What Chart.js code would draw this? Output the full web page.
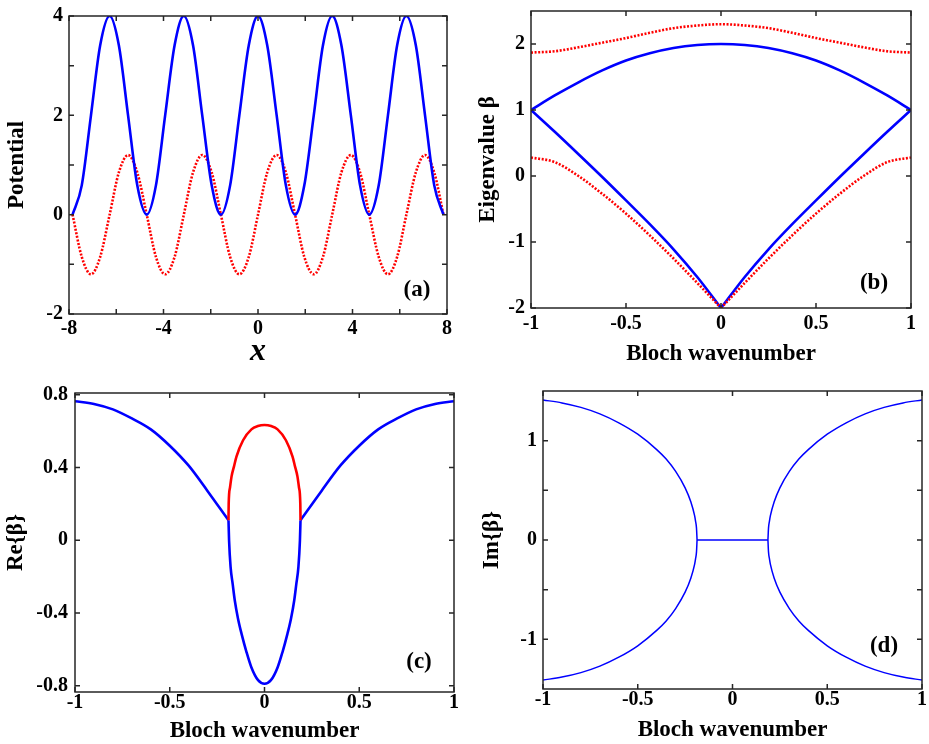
<!DOCTYPE html>
<html>
<head>
<meta charset="utf-8">
<script src="https://cdn.jsdelivr.net/npm/chart.js@4"></script>
<style>
  body { margin: 0; background: #fff; }
  canvas { position: absolute; }
</style>
</head>
<body>
<canvas id="ca" width="460" height="370" style="left:0;top:0"></canvas>
<canvas id="cb" width="469" height="370" style="left:460px;top:0"></canvas>
<canvas id="cc" width="460" height="374" style="left:0;top:370px"></canvas>
<canvas id="cd" width="469" height="374" style="left:460px;top:370px"></canvas>
<script>
// (a) potential vs x
const potX = [-7.85, -7.46, -7.07, -6.68, -6.28, -5.89, -5.50, -5.11, -4.71, -4.32, -3.93, -3.53, -3.14, -2.75, -2.36, -1.96,
  -1.57, -1.18, -0.79, -0.39, 0, 0.39, 0.79, 1.18, 1.57, 1.96, 2.36, 2.75, 3.14, 3.53, 3.93, 4.32,
  4.71, 5.11, 5.50, 5.89, 6.28, 6.68, 7.07, 7.46, 7.85];
const potRe = [0, 0.59, 2, 3.41, 4, 3.41, 2, 0.59, 0, 0.59, 2, 3.41, 4, 3.41, 2, 0.59,
  0, 0.59, 2, 3.41, 4, 3.41, 2, 0.59, 0, 0.59, 2, 3.41, 4, 3.41, 2, 0.59,
  0, 0.59, 2, 3.41, 4, 3.41, 2, 0.59, 0];
const potIm = [0, -0.85, -1.2, -0.85, 0, 0.85, 1.2, 0.85, 0, -0.85, -1.2, -0.85, 0, 0.85, 1.2, 0.85,
  0, -0.85, -1.2, -0.85, 0, 0.85, 1.2, 0.85, 0, -0.85, -1.2, -0.85, 0, 0.85, 1.2, 0.85,
  0, -0.85, -1.2, -0.85, 0, 0.85, 1.2, 0.85, 0];

// (b) band structure
const bandK = [-1, -0.875, -0.75, -0.625, -0.5, -0.375, -0.25, -0.125, 0, 0.125, 0.25, 0.375, 0.5, 0.625, 0.75, 0.875, 1];
const bandBlueUp = [1, 1.22, 1.42, 1.6, 1.75, 1.86, 1.94, 1.985, 2, 1.985, 1.94, 1.86, 1.75, 1.6, 1.42, 1.22, 1];
const bandRedUp = [1.87, 1.89, 1.95, 2.02, 2.09, 2.17, 2.24, 2.28, 2.3, 2.28, 2.24, 2.17, 2.09, 2.02, 1.95, 1.89, 1.87];
const bandKLeft = [-1, -0.875, -0.75, -0.625, -0.5, -0.375, -0.25, -0.125, 0];
const bandKRight = [0, 0.125, 0.25, 0.375, 0.5, 0.625, 0.75, 0.875, 1];
const bandBlueLowLeft = [1, 0.67, 0.33, -0.015, -0.37, -0.73, -1.11, -1.53, -2];
const bandBlueLowRight = [-2, -1.53, -1.11, -0.73, -0.37, -0.015, 0.33, 0.67, 1];
const bandRedLowLeft = [0.28, 0.21, 0.0, -0.27, -0.57, -0.9, -1.25, -1.62, -2];
const bandRedLowRight = [-2, -1.62, -1.25, -0.9, -0.57, -0.27, 0.0, 0.21, 0.28];

// (c) real part
const reLeftK = [-1, -0.9, -0.8, -0.7, -0.6, -0.5, -0.4, -0.3, -0.19];
const reLeft = [0.765, 0.75, 0.72, 0.67, 0.61, 0.52, 0.41, 0.27, 0.11];
const reRightK = [0.19, 0.3, 0.4, 0.5, 0.6, 0.7, 0.8, 0.9, 1];
const reRight = [0.11, 0.27, 0.41, 0.52, 0.61, 0.67, 0.72, 0.75, 0.765];
const reInnerK = [-0.19, -0.187, -0.179, -0.168, -0.157, -0.14, -0.121, -0.095, -0.069, -0.034, 0,
  0.034, 0.069, 0.095, 0.121, 0.14, 0.157, 0.168, 0.179, 0.187, 0.19];
const reInner = [0.11, 0.0, -0.147, -0.24, -0.33, -0.43, -0.515, -0.615, -0.70, -0.77, -0.79,
  -0.77, -0.70, -0.615, -0.515, -0.43, -0.33, -0.24, -0.147, 0.0, 0.11];
const reLoopK = [-0.19, -0.189, -0.182, -0.174, -0.16, -0.148, -0.113, -0.069, -0.035, 0,
  0.035, 0.069, 0.113, 0.148, 0.16, 0.174, 0.182, 0.189, 0.19];
const reLoop = [0.11, 0.2, 0.29, 0.35, 0.41, 0.46, 0.55, 0.61, 0.628, 0.634,
  0.628, 0.61, 0.55, 0.46, 0.41, 0.35, 0.29, 0.2, 0.11];

// (d) imaginary part
const imLeftK = [-1, -0.9, -0.8, -0.7, -0.6, -0.5, -0.4, -0.35, -0.3, -0.25, -0.22, -0.2, -0.195, -0.19, -0.187];
const imLeftUp = [1.41, 1.38, 1.335, 1.27, 1.18, 1.065, 0.91, 0.815, 0.69, 0.525, 0.385, 0.245, 0.19, 0.12, 0];
const imLeftDown = [-1.41, -1.38, -1.335, -1.27, -1.18, -1.065, -0.91, -0.815, -0.69, -0.525, -0.385, -0.245, -0.19, -0.12, 0];
const imRightK = [0.187, 0.19, 0.195, 0.2, 0.22, 0.25, 0.3, 0.35, 0.4, 0.5, 0.6, 0.7, 0.8, 0.9, 1];
const imRightUp = [0, 0.12, 0.19, 0.245, 0.385, 0.525, 0.69, 0.815, 0.91, 1.065, 1.18, 1.27, 1.335, 1.38, 1.41];
const imRightDown = [0, -0.12, -0.19, -0.245, -0.385, -0.525, -0.69, -0.815, -0.91, -1.065, -1.18, -1.27, -1.335, -1.38, -1.41];
const imMidK = [-0.187, 0.187];
const imMid = [0, 0];

// ticks
const potXTicks = [-8, -6, -4, -2, 0, 2, 4, 6, 8];
const potXLabels = ['-8', '', '-4', '', '0', '', '4', '', '8'];
const potYTicks = [-2, -1, 0, 1, 2, 3, 4];
const potYLabels = ['-2', '', '0', '', '2', '', '4'];
const kTicks = [-1, -0.5, 0, 0.5, 1];
const kLabels = ['-1', '-0.5', '0', '0.5', '1'];
const bandYTicks = [-2, -1, 0, 1, 2];
const bandYLabels = ['-2', '-1', '0', '1', '2'];
const reYTicks = [-0.8, -0.4, 0, 0.4, 0.8];
const reYLabels = ['-0.8', '-0.4', '0', '0.4', '0.8'];
const imYTicks = [-1, -0.5, 0, 0.5, 1];
const imYLabels = ['-1', '', '0', '', '1'];

const SERIF = '"Liberation Serif", "Times New Roman", serif';
const BLUE = '#0000ff';
const RED = '#ff0000';
const DOTS = [2, 1.6];

function line(xs, ys, color, width, dash) {
    return {
        data: xs.map((x, i) => ({ x: x, y: ys[i] })),
        borderColor: color,
        borderWidth: width,
        borderDash: dash || [],
        showLine: true,
        pointRadius: 0,
        fill: false,
        cubicInterpolationMode: 'monotone'
    };
}

// box, inward ticks on all sides, panel tag
const framePlugin = {
    id: 'frame',
    afterDatasetsDraw(chart, args, opts) {
        const { ctx, chartArea: a } = chart;
        const xs = chart.scales.x, ys = chart.scales.y;
        ctx.save();
        ctx.strokeStyle = '#262626';
        ctx.lineWidth = 1.5;
        ctx.beginPath();
        xs.ticks.forEach(t => {
            const px = xs.getPixelForValue(t.value);
            ctx.moveTo(px, a.bottom); ctx.lineTo(px, a.bottom - 5);
            ctx.moveTo(px, a.top); ctx.lineTo(px, a.top + 5);
        });
        ys.ticks.forEach(t => {
            const py = ys.getPixelForValue(t.value);
            ctx.moveTo(a.left, py); ctx.lineTo(a.left + 5, py);
            ctx.moveTo(a.right, py); ctx.lineTo(a.right - 5, py);
        });
        ctx.stroke();
        ctx.strokeRect(a.left, a.top, a.right - a.left, a.bottom - a.top);
        ctx.fillStyle = '#000';
        ctx.font = 'bold 23px ' + SERIF;
        ctx.textAlign = 'center';
        ctx.textBaseline = 'middle';
        ctx.fillText(opts.tag, a.right - opts.dx, a.bottom - opts.dy);
        ctx.restore();
    }
};

function makePanel(id, p) {
    const tickFont = { family: SERIF, size: 20, weight: 'bold', lineHeight: 1 };
    return new Chart(document.getElementById(id), {
        type: 'scatter',
        data: { datasets: p.datasets },
        options: {
            responsive: false,
            animation: false,
            devicePixelRatio: 1,
            layout: { padding: { top: p.T, right: p.W - p.R, left: 0, bottom: 0 } },
            plugins: {
                legend: { display: false },
                tooltip: { enabled: false },
                frame: { tag: p.tag, dx: p.tagDx, dy: p.tagDy }
            },
            scales: {
                x: {
                    type: 'linear', min: p.xMin, max: p.xMax,
                    grid: { display: false, drawTicks: false },
                    border: { display: false },
                    afterBuildTicks: s => { s.ticks = p.xTicks.map(v => ({ value: v })); },
                    afterFit: s => { s.height = p.H - p.B; s.paddingLeft = 0; s.paddingRight = 0; },
                    ticks: { autoSkip: false, maxRotation: 0, padding: p.xTickPad, color: '#000', font: tickFont,
                        callback: (v, i) => p.xLabels[i] },
                    title: { display: true, text: p.xTitle, color: '#000', font: p.xTitleFont,
                        padding: { top: 0, bottom: p.xTitlePad } }
                },
                y: {
                    type: 'linear', min: p.yMin, max: p.yMax,
                    grid: { display: false, drawTicks: false },
                    border: { display: false },
                    afterBuildTicks: s => { s.ticks = p.yTicks.map(v => ({ value: v })); },
                    afterFit: s => { s.width = p.L; s.paddingTop = 0; s.paddingBottom = 0; },
                    ticks: { autoSkip: false, padding: p.yTickPad, color: '#000', font: tickFont,
                        callback: (v, i) => p.yLabels[i] },
                    title: { display: true, text: p.yTitle, color: '#000',
                        font: { family: SERIF, size: 23, weight: 'bold', lineHeight: 1 },
                        padding: { top: p.yTitlePad, bottom: 0 } }
                }
            }
        },
        plugins: [framePlugin]
    });
}

const labelFont = { family: SERIF, size: 23, weight: 'bold', lineHeight: 1 };

makePanel('ca', {
    W: 460, H: 370, L: 69, T: 16, R: 447, B: 314,
    xMin: -8, xMax: 8, yMin: -2, yMax: 4,
    xTicks: potXTicks, xLabels: potXLabels, yTicks: potYTicks, yLabels: potYLabels,
    xTitle: 'x', xTitleFont: { family: SERIF, size: 32, weight: 'bold', style: 'italic', lineHeight: 1 },
    xTitlePad: 2, xTickPad: 5,
    yTitle: 'Potential', yTitlePad: 6, yTickPad: 6,
    tag: '(a)', tagDx: 30, tagDy: 24,
    datasets: [
        line(potX, potRe, BLUE, 2.6),
        line(potX, potIm, RED, 2.6, DOTS)
    ]
});

makePanel('cb', {
    W: 469, H: 370, L: 71, T: 11, R: 451, B: 308,
    xMin: -1, xMax: 1, yMin: -2, yMax: 2.5,
    xTicks: kTicks, xLabels: kLabels, yTicks: bandYTicks, yLabels: bandYLabels,
    xTitle: 'Bloch wavenumber', xTitleFont: labelFont,
    xTitlePad: 4.5, xTickPad: 5.5,
    yTitle: 'Eigenvalue β', yTitlePad: 16.5, yTickPad: 6,
    tag: '(b)', tagDx: 37, tagDy: 25,
    datasets: [
        line(bandK, bandRedUp, RED, 2.6, DOTS),
        line(bandKLeft, bandRedLowLeft, RED, 2.6, DOTS),
        line(bandKRight, bandRedLowRight, RED, 2.6, DOTS),
        line(bandK, bandBlueUp, BLUE, 2.6),
        line(bandKLeft, bandBlueLowLeft, BLUE, 2.6),
        line(bandKRight, bandBlueLowRight, BLUE, 2.6)
    ]
});

makePanel('cc', {
    W: 460, H: 374, L: 75, T: 23, R: 454, B: 322,
    xMin: -1, xMax: 1, yMin: -0.835, yMax: 0.81,
    xTicks: kTicks, xLabels: kLabels, yTicks: reYTicks, yLabels: reYLabels,
    xTitle: 'Bloch wavenumber', xTitleFont: labelFont,
    xTitlePad: 1, xTickPad: 1,
    yTitle: 'Re{β}', yTitlePad: 5, yTickPad: 7,
    tag: '(c)', tagDx: 35, tagDy: 30,
    datasets: [
        line(reLoopK, reLoop, RED, 2.6),
        line(reLeftK, reLeft, BLUE, 2.6),
        line(reInnerK, reInner, BLUE, 2.6),
        line(reRightK, reRight, BLUE, 2.6)
    ]
});

makePanel('cd', {
    W: 469, H: 374, L: 83, T: 21, R: 462, B: 319,
    xMin: -1, xMax: 1, yMin: -1.5, yMax: 1.5,
    xTicks: kTicks, xLabels: kLabels, yTicks: imYTicks, yLabels: imYLabels,
    xTitle: 'Bloch wavenumber', xTitleFont: labelFont,
    xTitlePad: 2.5, xTickPad: 1,
    yTitle: 'Im{β}', yTitlePad: 21, yTickPad: 6,
    tag: '(d)', tagDx: 38, tagDy: 43,
    datasets: [
        line(imLeftK, imLeftUp, BLUE, 1.5),
        line(imLeftK, imLeftDown, BLUE, 1.5),
        line(imMidK, imMid, BLUE, 1.5),
        line(imRightK, imRightUp, BLUE, 1.5),
        line(imRightK, imRightDown, BLUE, 1.5)
    ]
});
</script>
</body>
</html>
